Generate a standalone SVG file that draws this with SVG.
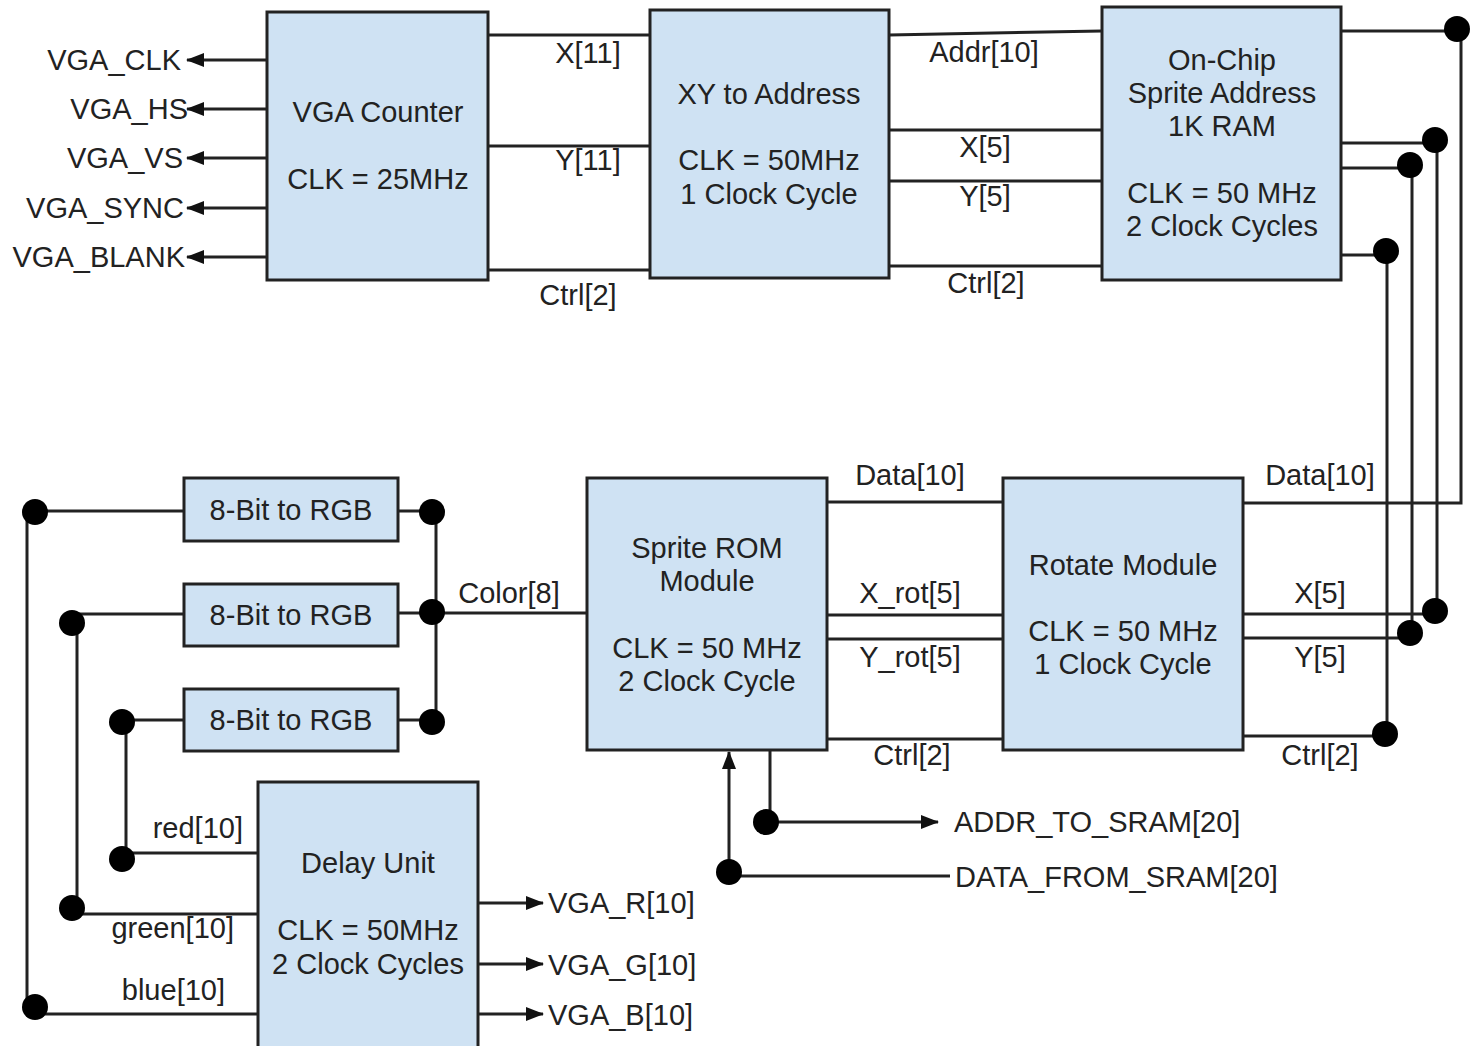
<svg xmlns="http://www.w3.org/2000/svg" width="1470" height="1046" viewBox="0 0 1470 1046">
<style>
.box{fill:#cfe2f3;stroke:#222;stroke-width:3}
.w{fill:none;stroke:#222;stroke-width:3}
.dot{fill:#000}
text{font-family:"Liberation Sans",Arial,sans-serif;font-size:29px;fill:#222}
.c{text-anchor:middle}
.r{text-anchor:end}
</style>
<defs>
<marker id="arr" markerWidth="20" markerHeight="16" refX="17" refY="7" orient="auto" markerUnits="userSpaceOnUse"><path d="M0,0 L18,7 L0,14 z" fill="#111"/></marker>
</defs>
<rect width="1470" height="1046" fill="#fff"/>
<g id="connectors">
<path class="w" d="M267,60 H187" marker-end="url(#arr)"/>
<path class="w" d="M267,109 H187" marker-end="url(#arr)"/>
<path class="w" d="M267,158 H187" marker-end="url(#arr)"/>
<path class="w" d="M267,208 H187" marker-end="url(#arr)"/>
<path class="w" d="M267,257 H187" marker-end="url(#arr)"/>
<path class="w" d="M488,35 H650 M488,146 H650 M488,270 H650"/>
<path class="w" d="M889,35 L1102,31 M889,130 H1102 M889,181 H1102 M889,266 H1102"/>
<path class="w" d="M1341,31 H1458 M1461,29 V503 H1243"/>
<path class="w" d="M1341,143 H1435 M1437,140 V611 M1243,614 H1435"/>
<path class="w" d="M1341,168 H1410 M1412,165 V633 M1243,638 H1410"/>
<path class="w" d="M1341,255 H1386 M1387,252 V734 M1243,736 H1385"/>
<path class="w" d="M827,502 H1003 M827,615 H1003 M827,639 H1003 M827,739 H1003"/>
<path class="w" d="M432,613 H587 M436,511 V721 M398,511 H432 M398,613 H432 M398,720 H432"/>
<path class="w" d="M184,511 H35 M27,512 V1008 M35,1014 H258"/>
<path class="w" d="M184,614 H72 M77,623 V909 M72,914 H258"/>
<path class="w" d="M184,720 H122 M126,722 V859 M122,853 H258"/>
<path class="w" d="M478,903 H543" marker-end="url(#arr)"/>
<path class="w" d="M478,964 H543" marker-end="url(#arr)"/>
<path class="w" d="M478,1014 H543" marker-end="url(#arr)"/>
<path class="w" d="M770,750 V822 H938" marker-end="url(#arr)"/>
<path class="w" d="M950,876 H729 V752" marker-end="url(#arr)"/>
<circle class="dot" cx="1457" cy="29" r="13"/>
<circle class="dot" cx="1435" cy="140" r="13"/>
<circle class="dot" cx="1410" cy="165" r="13"/>
<circle class="dot" cx="1386" cy="251" r="13"/>
<circle class="dot" cx="1435" cy="611" r="13"/>
<circle class="dot" cx="1410" cy="633" r="13"/>
<circle class="dot" cx="1385" cy="734" r="13"/>
<circle class="dot" cx="432" cy="512" r="13"/>
<circle class="dot" cx="432" cy="612" r="13"/>
<circle class="dot" cx="432" cy="722" r="13"/>
<circle class="dot" cx="35" cy="512" r="13"/>
<circle class="dot" cx="72" cy="623" r="13"/>
<circle class="dot" cx="122" cy="722" r="13"/>
<circle class="dot" cx="122" cy="859" r="13"/>
<circle class="dot" cx="72" cy="908" r="13"/>
<circle class="dot" cx="35" cy="1007" r="13"/>
<circle class="dot" cx="766" cy="822" r="13"/>
<circle class="dot" cx="729" cy="872" r="13"/>
</g>
<g id="labels">
<text class="r" x="181" y="70">VGA_CLK</text>
<text class="r" x="188" y="119">VGA_HS</text>
<text class="r" x="183" y="168">VGA_VS</text>
<text class="r" x="184" y="218">VGA_SYNC</text>
<text class="r" x="185" y="267">VGA_BLANK</text>
<text class="c" x="588" y="63">X[11]</text>
<text class="c" x="588" y="170">Y[11]</text>
<text class="c" x="578" y="305">Ctrl[2]</text>
<text class="c" x="984" y="62">Addr[10]</text>
<text class="c" x="985" y="157">X[5]</text>
<text class="c" x="985" y="206">Y[5]</text>
<text class="c" x="986" y="293">Ctrl[2]</text>
<text class="c" x="910" y="485">Data[10]</text>
<text class="c" x="910" y="603">X_rot[5]</text>
<text class="c" x="910" y="667">Y_rot[5]</text>
<text class="c" x="912" y="765">Ctrl[2]</text>
<text class="c" x="1320" y="485">Data[10]</text>
<text class="c" x="1320" y="603">X[5]</text>
<text class="c" x="1320" y="667">Y[5]</text>
<text class="c" x="1320" y="765">Ctrl[2]</text>
<text class="c" x="509" y="603">Color[8]</text>
<text class="r" x="243" y="838">red[10]</text>
<text class="r" x="234" y="938">green[10]</text>
<text class="r" x="225" y="1000">blue[10]</text>
<text x="548" y="913">VGA_R[10]</text>
<text x="548" y="975">VGA_G[10]</text>
<text x="548" y="1025">VGA_B[10]</text>
<text x="954" y="832">ADDR_TO_SRAM[20]</text>
<text x="955" y="887">DATA_FROM_SRAM[20]</text>
</g>
<g id="vga-counter">
<rect class="box" x="267" y="12" width="221" height="268"/>
<text class="c" x="378" y="122">VGA Counter</text>
<text class="c" x="378" y="189">CLK = 25MHz</text>
</g>
<g id="xy-to-address">
<rect class="box" x="650" y="10" width="239" height="268"/>
<text class="c" x="769" y="104">XY to Address</text>
<text class="c" x="769" y="170">CLK = 50MHz</text>
<text class="c" x="769" y="204">1 Clock Cycle</text>
</g>
<g id="sprite-address-ram">
<rect class="box" x="1102" y="7" width="239" height="273"/>
<text class="c" x="1222" y="70">On-Chip</text>
<text class="c" x="1222" y="103">Sprite Address</text>
<text class="c" x="1222" y="136">1K RAM</text>
<text class="c" x="1222" y="203">CLK = 50 MHz</text>
<text class="c" x="1222" y="236">2 Clock Cycles</text>
</g>
<g id="sprite-rom">
<rect class="box" x="587" y="478" width="240" height="272"/>
<text class="c" x="707" y="558">Sprite ROM</text>
<text class="c" x="707" y="591">Module</text>
<text class="c" x="707" y="658">CLK = 50 MHz</text>
<text class="c" x="707" y="691">2 Clock Cycle</text>
</g>
<g id="rotate-module">
<rect class="box" x="1003" y="478" width="240" height="272"/>
<text class="c" x="1123" y="575">Rotate Module</text>
<text class="c" x="1123" y="641">CLK = 50 MHz</text>
<text class="c" x="1123" y="674">1 Clock Cycle</text>
</g>
<g id="rgb1">
<rect class="box" x="184" y="478" width="214" height="63"/>
<text class="c" x="291" y="520">8-Bit to RGB</text>
</g>
<g id="rgb2">
<rect class="box" x="184" y="584" width="214" height="62"/>
<text class="c" x="291" y="625">8-Bit to RGB</text>
</g>
<g id="rgb3">
<rect class="box" x="184" y="689" width="214" height="62"/>
<text class="c" x="291" y="730">8-Bit to RGB</text>
</g>
<g id="delay-unit">
<rect class="box" x="258" y="782" width="220" height="280"/>
<text class="c" x="368" y="873">Delay Unit</text>
<text class="c" x="368" y="940">CLK = 50MHz</text>
<text class="c" x="368" y="974">2 Clock Cycles</text>
</g>
</svg>
